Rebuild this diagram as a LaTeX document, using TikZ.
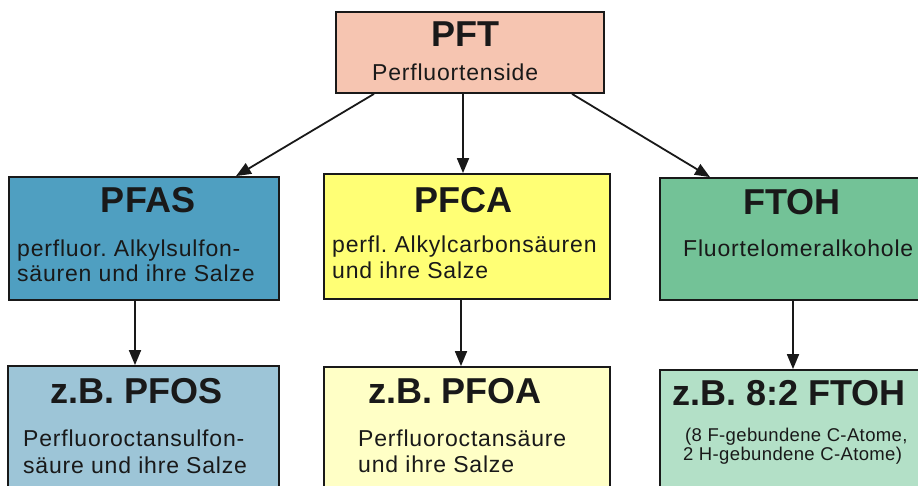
\documentclass[tikz,border=0pt]{standalone}
\usepackage{fontspec}
\setmainfont{Liberation Sans}
\frenchspacing
\usetikzlibrary{arrows.meta}
\definecolor{cpft}{HTML}{F6C5B1}
\definecolor{cpfas}{HTML}{4F9FC1}
\definecolor{cpfca}{HTML}{FFFF75}
\definecolor{cftoh}{HTML}{73C297}
\definecolor{cpfos}{HTML}{9DC5D7}
\definecolor{cpfoa}{HTML}{FFFFC6}
\definecolor{cftohb}{HTML}{B3E0C7}
\tikzset{
  box/.style={draw=black!90, line width=1.8pt, rectangle, inner sep=0pt},
  ttl/.style={font=\bfseries\fontsize{36}{36}\selectfont, anchor=base, inner sep=0pt, text=black!90},
  sub/.style={font=\fontsize{23}{27}\selectfont\addfontfeature{LetterSpace=3.5}\frenchspacing, anchor=base west, inner sep=0pt, text=black!90},
  small/.style={font=\fontsize{18.5}{20}\selectfont\addfontfeature{LetterSpace=2}, anchor=base west, inner sep=0pt, text=black!90},
  arr/.style={line width=1.8pt, draw=black!90, -{Triangle[length=15pt,width=12pt]}, shorten >=0pt}
}
\begin{document}
\begin{tikzpicture}[x=1pt,y=-1pt]
\useasboundingbox (0,0) rectangle (918,486);
\fill[white] (0,0) rectangle (918,486);
\clip (0,0) rectangle (918,486);
% boxes
\node[box, fill=cpft, minimum width=268pt, minimum height=81pt] (pft) at (470,52.5) {};
\node[box, fill=cpfas, minimum width=270pt, minimum height=123pt] (pfas) at (144,238.5) {};
\node[box, fill=cpfca, minimum width=286pt, minimum height=125pt] (pfca) at (467,236.5) {};
\node[box, fill=cftoh, minimum width=300pt, minimum height=122pt] (ftoh) at (810,239) {};
\node[box, fill=cpfos, minimum width=271pt, minimum height=154pt] (pfos) at (143.5,443) {};
\node[box, fill=cpfoa, minimum width=286pt, minimum height=153pt] (pfoa) at (467,443.5) {};
\node[box, fill=cftohb, minimum width=300pt, minimum height=150pt] (ftohb) at (810,445) {};
% texts
\node[ttl] (t1) at (465,47) {PFT};
\node[sub] (s1) at (372,81) {Perfluortenside};
\node[ttl] (t2) at (148,213) {PFAS};
\node[sub] (s2a) at (17,257) {perfluor. Alkylsulfon-};
\node[sub] (s2b) at (17,282) {säuren und ihre Salze};
\node[ttl] (t3) at (463,213) {PFCA};
\node[sub] (s3a) at (332,253) {perfl. Alkylcarbonsäuren};
\node[sub] (s3b) at (332,279) {und ihre Salze};
\node[ttl] (t4) at (792,215) {FTOH};
\node[sub] (s4) at (683,257) {Fluortelomeralkohole};
\node[ttl] (t5) at (137,403) {z.B. PFOS};
\node[sub] (s5a) at (23,446) {Perfluoroctansulfon-};
\node[sub] (s5b) at (23,473) {säure und ihre Salze};
\node[ttl] (t6) at (455,403) {z.B. PFOA};
\node[sub] (s6a) at (358,446) {Perfluoroctansäure};
\node[sub] (s6b) at (358,472) {und ihre Salze};
\node[ttl] (t7) at (789,405) {z.B. 8:2 FTOH};
\node[small] (s7a) at (685,441) {(8 F-gebundene C-Atome,};
\node[small] (s7b) at (683,460) {2 H-gebundene C-Atome)};
% arrows
\draw[arr] (pft.south -| 374,0) -- (pfas.north -| 236,0);
\draw[arr] (pft.south -| 463,0) -- (pfca.north -| 463,0);
\draw[arr] (pft.south -| 572,0) -- (ftoh.north -| 710,0);
\draw[arr] (pfas.south -| 135,0) -- (pfos.north -| 135,0);
\draw[arr] (pfca.south -| 461,0) -- (pfoa.north -| 461,0);
\draw[arr] (ftoh.south -| 793,0) -- (ftohb.north -| 793,0);
\end{tikzpicture}
\end{document}
